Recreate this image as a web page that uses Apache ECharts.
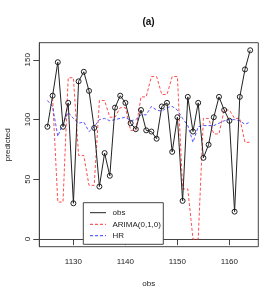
<!DOCTYPE html>
<html><head><meta charset="utf-8">
<script src="https://cdn.jsdelivr.net/npm/echarts@6/dist/echarts.min.js"></script>
<style>html,body{margin:0;padding:0;background:#fff}#c{width:278px;height:300px}</style>
</head><body><div id="c"></div>
<script>
var obsX = [1125,1126,1127,1128,1129,1130,1131,1132,1133,1134,1135,1136,1137,1138,1139,1140,1141,1142,1143,1144,1145,1146,1147,1148,1149,1150,1151,1152,1153,1154,1155,1156,1157,1158,1159,1160,1161,1162,1163,1164];
var obsVals = [94,120,148,94,114,30,132,140,124,93,44,72,53,110,120,114,97,92,108,91,90,84,111,114,73,102,32,119,90,114,68,79,102,119,108,99,23,119,142,158];
var arimaVals = [null,118,31,31,135,135,70,70,45,45,116,116,102,102,110,110,91,91,119,119,136,136,121,121,136,136,42,42,0,0,101,101,88,88,108,108,101,101,81,81];
var hrVals = [116,111,86,97,106,101,97,98,90,94,100,101,99,100,101,102,99,100,104,104,111,108,107,110,111,108,101,95,81,94,95,95,95,97,99,100,100,99,96,98];
var xTicks = [1130,1140,1150,1160];
var yTicks = [0,50,100,150];
var title = '(a)';
var seriesNames = ['obs','ARIMA(0,1,0)','HR'];

function pairs(v){ return obsX.map(function(x,i){ return [x, v[i]]; }); }

var FONT = 'Liberation Sans, Arial, sans-serif';
var chart = echarts.init(document.getElementById('c'), null, {renderer:'canvas'});
var gl = 39.3, gt = 42.7, gw = 219, gh = 204;
var lx = 83.3, ly = 202.7, lw = 80, lh = 41.6;
var legendRows = [212.7, 224.3, 235.7];
var legendStyles = [
  {stroke:'#222', lineDash:null},
  {stroke:'#ff3030', lineDash:[3,2]},
  {stroke:'#3a3aff', lineDash:[3,2]}
];
var graphics = [{type:'rect', shape:{x:lx,y:ly,width:lw,height:lh}, style:{fill:'#fff', stroke:'#444', lineWidth:1}, z:100}];
seriesNames.forEach(function(n,i){
  graphics.push({type:'line', shape:{x1:90,y1:legendRows[i],x2:106,y2:legendRows[i]}, style:{stroke:legendStyles[i].stroke, lineWidth:1, lineDash:legendStyles[i].lineDash}, z:101});
  graphics.push({type:'text', x:112.5, y:legendRows[i], style:{text:n, font:'8px '+FONT, fill:'#222', textVerticalAlign:'middle'}, z:101});
});
graphics.push({type:'text', x:148.5, y:22, style:{text:title, font:'bold 10px '+FONT, fill:'#111', textAlign:'center', textVerticalAlign:'middle'}});

chart.setOption({
  animation:false,
  backgroundColor:'#fff',
  grid:{left:gl, top:gt, width:gw, height:gh, show:true, borderColor:'#444', borderWidth:1, containLabel:false, outerBoundsMode:'none'},
  xAxis:{type:'value', min:1123.44, max:1165.56,
    name:'obs', nameLocation:'middle', nameGap:33, nameTextStyle:{fontFamily:FONT, fontSize:8, color:'#222'},
    axisLine:{show:true, lineStyle:{color:'#444'}},
    axisTick:{show:true, length:6, customValues:xTicks, lineStyle:{color:'#444'}},
    axisLabel:{customValues:xTicks, formatter:function(v){return String(v);}, fontFamily:FONT, fontSize:8, color:'#222', margin:11.5},
    splitLine:{show:false}},
  yAxis:{type:'value', min:-6.32, max:164.32,
    name:'predicted', nameLocation:'middle', nameGap:28, nameTextStyle:{fontFamily:FONT, fontSize:8, color:'#222'},
    axisLine:{show:true, lineStyle:{color:'#444'}},
    axisTick:{show:true, length:6, customValues:yTicks, lineStyle:{color:'#444'}},
    axisLabel:{customValues:yTicks, formatter:function(v){return String(v);}, rotate:90, fontFamily:FONT, fontSize:8, color:'#222', margin:7.5},
    splitLine:{show:false}},
  series:[
    {name:seriesNames[1], type:'line', data:pairs(arimaVals), symbol:'none', connectNulls:false,
     lineStyle:{color:'#ff3030', width:1, type:[3,2], opacity:0.85}, z:2},
    {name:seriesNames[2], type:'line', data:pairs(hrVals), symbol:'none',
     lineStyle:{color:'#3a3aff', width:1, type:[3,2], opacity:0.85}, z:3},
    {name:seriesNames[0], type:'line', data:pairs(obsVals), symbol:'circle', symbolSize:5,
     itemStyle:{color:'rgba(0,0,0,0)', borderColor:'#222', borderWidth:1},
     lineStyle:{color:'#222', width:1}, z:4}
  ],
  graphic:graphics
});
</script></body></html>
